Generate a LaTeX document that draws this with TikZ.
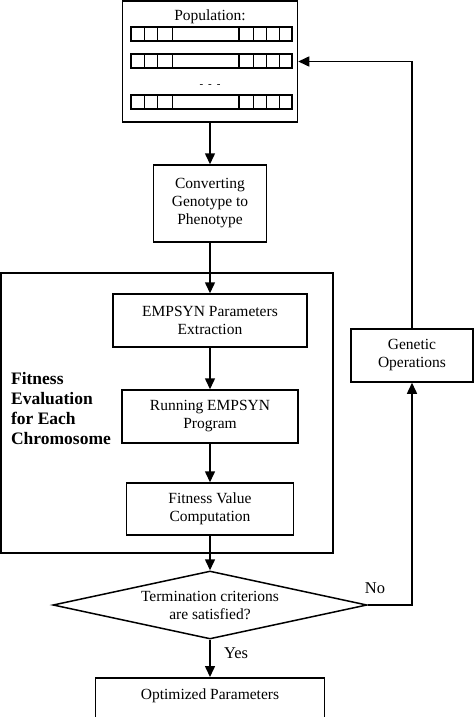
\documentclass[tikz,border=0pt]{standalone}
\usepackage{fontspec}
\setmainfont{Liberation Serif}
\usetikzlibrary{arrows.meta,shapes.geometric}

\begin{document}
\begin{tikzpicture}[x=1pt,y=-1pt,line width=1.5pt]
                \tikzstyle{blk}=[draw,rectangle,align=center,inner sep=0pt,font=\fontsize{15.5}{18}\selectfont]
                \tikzstyle{cond}=[draw,diamond,align=center,inner sep=0pt,shape aspect=4.6,font=\fontsize{15.5}{18}\selectfont]
                \tikzstyle{myarrow}=[-{Triangle[length=11pt,width=10pt]}]
                \tikzstyle{gene}=[line width=1.3pt]
                \clip (0,0) rectangle (474,717);
                \fill[white] (0,0) rectangle (474,717);

                % population with its chromosomes
                \node[blk,minimum width=175pt,minimum height=121pt] (pop) at (210,61.5) {};
                \node[font=\fontsize{15.5}{18}\selectfont] (poptitle) at (210,17) {Population:};
                \foreach \r in {27,54,95}{
                    \draw[gene] (131,\r) rectangle (292,\r+14);
                    \foreach \c in {13.3,26.7,41.3,108,122.3,135.7,148.3}
                        \draw[gene] (131+\c,\r) -- (131+\c,\r+14);
                }
                \node[font=\fontsize{11}{12}\selectfont] (dots) at (210,86) {-\hspace{5pt}-\hspace{5pt}-};

                \node[blk,minimum width=113pt,minimum height=77pt] (conv) at (210,203.5) {Converting\\Genotype to\\Phenotype};

                % fitness evaluation frame
                \node[draw,line width=1.8pt,minimum width=332pt,minimum height=280pt,inner sep=0pt] (eval) at (167,413) {};
                \node[font=\bfseries\fontsize{17.5}{20.3}\selectfont,align=left,anchor=west] (evallabel) at (7,408.5) {Fitness\\Evaluation\\for Each\\Chromosome};
                \node[blk,minimum width=194pt,minimum height=53pt] (extr) at (210,320.5) {EMPSYN Parameters\\Extraction};
                \node[blk,minimum width=176pt,minimum height=53pt] (run) at (210,416.5) {Running EMPSYN\\Program};
                \node[blk,minimum width=167pt,minimum height=52pt] (fitv) at (210,509) {Fitness Value\\Computation};

                \node[blk,minimum width=122pt,minimum height=53pt] (genop) at (412,355.5) {Genetic\\Operations};
                \node[cond,minimum width=314pt,minimum height=68pt] (term) at (210,605) {Termination criterions\\are satisfied?};
                \node[blk,minimum width=229pt,text height=22pt,text depth=38pt,anchor=north] (opt) at (210,677) {Optimized Parameters};

                \node[font=\fontsize{16.5}{18}\selectfont,anchor=west] (yes) at (220,653) {Yes};
                \node[font=\fontsize{16.5}{18}\selectfont] (no) at (375,588) {No};

                \draw[myarrow] (pop) -- (conv);
                \draw[myarrow] (conv) -- (extr);
                \draw[myarrow] (extr) -- (run);
                \draw[myarrow] (run) -- (fitv);
                \draw[myarrow] (fitv) -- (term);
                \draw[myarrow] (term) -- (opt);
                \draw[myarrow] (term.east) -- (genop.south |- term.east) -- (genop.south);
                \draw[myarrow] (genop.north) -- (genop.north |- pop.east) -- (pop.east);

\end{tikzpicture}
\end{document}
